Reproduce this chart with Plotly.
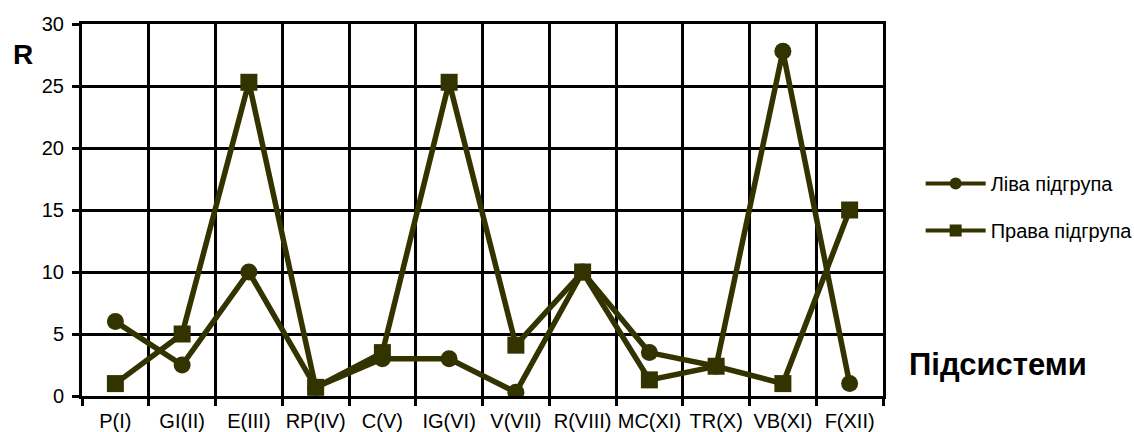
import plotly.graph_objects as go

subsystems = ["P(I)", "GI(II)", "E(III)", "RP(IV)", "C(V)", "IG(VI)", "V(VII)",
              "R(VIII)", "MC(XI)", "TR(X)", "VB(XI)", "F(XII)"]
left_group = [6.0, 2.5, 10.0, 0.7, 3.0, 3.0, 0.3, 10.0, 3.5, 2.4, 27.8, 1.0]
right_group = [1.0, 5.0, 25.3, 0.7, 3.5, 25.3, 4.1, 10.0, 1.3, 2.4, 1.0, 15.0]
series_names = ["Ліва підгрупа", "Права підгрупа"]

line_color = "#333300"
font_family = "Liberation Sans, Arial, sans-serif"

fig = go.Figure()
for name, values, symbol in [(series_names[0], left_group, "circle"),
                             (series_names[1], right_group, "square")]:
    # plotted series
    fig.add_trace(go.Scatter(
        x=subsystems, y=values, name=name, showlegend=False,
        mode="lines+markers",
        line=dict(color=line_color, width=5.5),
        marker=dict(symbol=symbol, size=17, color=line_color),
    ))
    # legend entry with a smaller key
    fig.add_trace(go.Scatter(
        x=[None], y=[None], name=name, legendgroup=name,
        mode="lines+markers",
        line=dict(color=line_color, width=4),
        marker=dict(symbol=symbol, size=12, color=line_color),
    ))

fig.update_layout(
    width=1134, height=432,
    margin=dict(l=82, r=251, t=24, b=36, autoexpand=False),
    paper_bgcolor="white", plot_bgcolor="white",
    font=dict(family=font_family, size=20, color="black"),
    legend=dict(
        x=1.047, y=0.508, xanchor="left", yanchor="middle",
        font=dict(size=20), itemwidth=60, tracegroupgap=18,
        bgcolor="rgba(0,0,0,0)",
    ),
    xaxis=dict(
        type="category", range=[-0.5, 11.5],
        tickson="boundaries", ticks="outside", ticklen=7, tickwidth=3,
        tickcolor="black", tickangle=0, automargin=False,
        ticklabelstandoff=5,
        showgrid=True, gridcolor="black", gridwidth=3,
        showline=True, linecolor="black", linewidth=3, mirror=True,
        tickfont=dict(size=20),
        zeroline=False,
    ),
    yaxis=dict(
        range=[0, 30], dtick=5, ticks="outside", ticklen=7, tickwidth=3,
        tickcolor="black", automargin=False,
        ticklabelstandoff=4,
        showgrid=True, gridcolor="black", gridwidth=3,
        showline=True, linecolor="black", linewidth=3, mirror=True,
        tickfont=dict(size=20), zeroline=False,
    ),
    annotations=[
        dict(text="<b>R</b>", xref="paper", yref="paper", x=-0.0737, y=0.919,
             showarrow=False, font=dict(size=28), xanchor="center", yanchor="middle"),
        dict(text="<b>Підсистеми</b>", xref="paper", yref="paper", x=1.1436, y=0.086,
             showarrow=False, font=dict(size=31), xanchor="center", yanchor="middle"),
    ],
)

fig.write_html("out.html")
